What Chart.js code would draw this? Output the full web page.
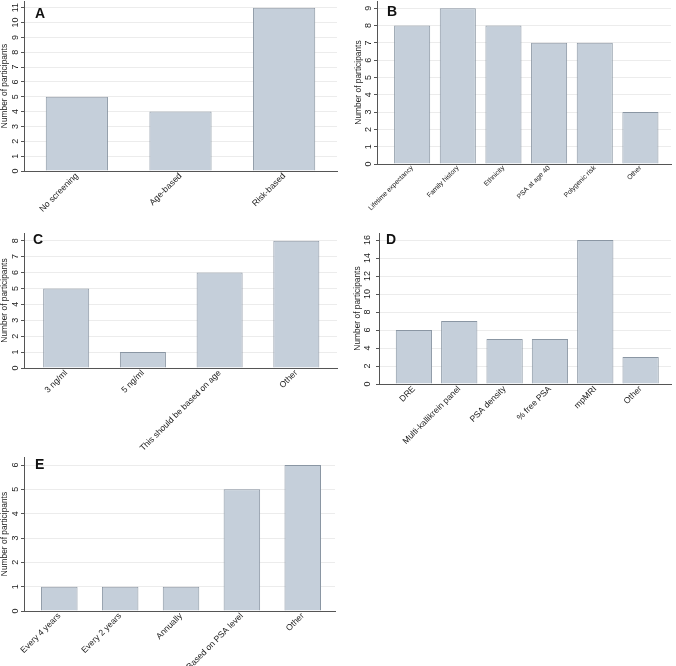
<!DOCTYPE html>
<html>
<head>
<meta charset="utf-8">
<script src="https://cdn.jsdelivr.net/npm/chart.js@4.4.1/dist/chart.umd.min.js"></script>
<style>
  body { margin: 0; background: #fff; }
  #wrap { position: relative; width: 676px; height: 666px; overflow: hidden; }
  .panel { position: absolute; }
</style>
</head>
<body>
<div id="wrap">
  <div class="panel" style="left:0;top:0;width:340px;height:222px"><canvas id="chartA"></canvas></div>
  <div class="panel" style="left:336px;top:0;width:340px;height:222px"><canvas id="chartB"></canvas></div>
  <div class="panel" style="left:0;top:222px;width:340px;height:240px"><canvas id="chartC"></canvas></div>
  <div class="panel" style="left:336px;top:222px;width:340px;height:230px"><canvas id="chartD"></canvas></div>
  <div class="panel" style="left:0;top:446px;width:340px;height:220px"><canvas id="chartE"></canvas></div>
</div>
<script>
// data for each panel
const aLabels = ['No screening', 'Age-based', 'Risk-based'];
const aValues = [5, 4, 11];
const aTicks = [0, 1, 2, 3, 4, 5, 6, 7, 8, 9, 10, 11];

const bLabels = ['Lifetime expectancy', 'Family history', 'Ethnicity', 'PSA at age 40', 'Polygenic risk', 'Other'];
const bValues = [8, 9, 8, 7, 7, 3];
const bTicks = [0, 1, 2, 3, 4, 5, 6, 7, 8, 9];

const cLabels = ['3 ng/ml', '5 ng/ml', 'This should be based on age', 'Other'];
const cValues = [5, 1, 6, 8];
const cTicks = [0, 1, 2, 3, 4, 5, 6, 7, 8];

const dLabels = ['DRE', 'Multi-kallikrein panel', 'PSA density', '% free PSA', 'mpMRI', 'Other'];
const dValues = [6, 7, 5, 5, 16, 3];
const dTicks = [0, 2, 4, 6, 8, 10, 12, 14, 16];

const eLabels = ['Every 4 years', 'Every 2 years', 'Annually', 'Based on PSA level', 'Other'];
const eValues = [1, 1, 1, 5, 6];
const eTicks = [0, 1, 2, 3, 4, 5, 6];

const yTitle = 'Number of participants';

Chart.defaults.font.family = '"Liberation Sans", Arial, sans-serif';
Chart.defaults.color = '#222';

// panel letter drawn in the top-left of the plot area
const letterPlugin = {
  id: 'panelLetter',
  afterDraw(chart, args, opts) {
    const { ctx, chartArea } = chart;
    ctx.save();
    ctx.font = 'bold 14px "Liberation Sans", Arial, sans-serif';
    ctx.fillStyle = '#111';
    ctx.textBaseline = 'alphabetic';
    ctx.fillText(opts.text, chartArea.left + opts.dx, chartArea.top + opts.dy);
    ctx.restore();
  }
};

function makePanel(id, labels, values, yTicks, p) {
  new Chart(document.getElementById(id), {
    type: 'bar',
    data: {
      datasets: [{
        data: values.map((v, i) => ({ x: i, y: v })),
        backgroundColor: '#c5cfda',
        borderColor: '#8a96a3',
        borderWidth: 1,
        barPercentage: p.barPct,
        categoryPercentage: 1
      }]
    },
    plugins: [letterPlugin],
    options: {
      responsive: true,
      maintainAspectRatio: false,
      animation: false,
      layout: { padding: { top: p.padTop, right: p.padRight, left: 0, bottom: 0 } },
      plugins: {
        legend: { display: false },
        tooltip: { enabled: false },
        panelLetter: { text: p.letter, dx: p.letterPos[0], dy: p.letterPos[1] }
      },
      scales: {
        x: {
          type: 'linear',
          offset: false,
          min: p.xMin,
          max: p.xMax,
          afterBuildTicks: s => { s.ticks = labels.map((_, i) => ({ value: i })); },
          afterFit: s => { s.height = p.xHeight; s.paddingLeft = 0; s.paddingRight = 0; },
          grid: { display: false, drawTicks: false, offset: false },
          border: { display: true, color: '#555', width: 1 },
          ticks: {
            autoSkip: false,
            minRotation: 45,
            maxRotation: 45,
            padding: 0,
            font: { size: p.xFont },
            callback: v => labels[v]
          }
        },
        y: {
          min: 0,
          max: p.yMax,
          afterBuildTicks: s => { s.ticks = yTicks.map(v => ({ value: v })); },
          afterFit: s => { s.width = p.yWidth; s.paddingTop = 0; s.paddingBottom = 0; },
          grid: { color: '#ececec', tickColor: '#555', tickLength: 3 },
          border: { display: true, color: '#555', width: 1 },
          ticks: {
            autoSkip: false,
            minRotation: 90,
            maxRotation: 90,
            crossAlign: 'center',
            padding: p.yTickPad,
            font: { size: 9 }
          },
          title: {
            display: true,
            text: yTitle,
            font: { size: 8.4 },
            padding: { top: p.titlePad, bottom: 0 }
          }
        }
      }
    }
  });
}

makePanel('chartA', aLabels, aValues, aTicks, {
  letter: 'A', letterPos: [11, 17], barPct: 0.6, xFont: 8.6,
  xMin: -0.51, xMax: 2.51, yMax: 11.45,
  yWidth: 24, xHeight: 51, padTop: 1, padRight: 3, titlePad: 0, yTickPad: 0
});
makePanel('chartB', bLabels, bValues, bTicks, {
  letter: 'B', letterPos: [10, 15], barPct: 0.79, xFont: 6.8,
  xMin: -0.77, xMax: 5.67, yMax: 9.42,
  yWidth: 41, xHeight: 58, padTop: 1, padRight: 5, titlePad: 18, yTickPad: 2.5
});
makePanel('chartC', cLabels, cValues, cTicks, {
  letter: 'C', letterPos: [9, 11], barPct: 0.6, xFont: 8.6,
  xMin: -0.55, xMax: 3.53, yMax: 8.48,
  yWidth: 24, xHeight: 94, padTop: 11, padRight: 3, titlePad: 0, yTickPad: 2.5
});
makePanel('chartD', dLabels, dValues, dTicks, {
  letter: 'D', letterPos: [7, 11], barPct: 0.8, xFont: 8.6,
  xMin: -0.77, xMax: 5.67, yMax: 16.78,
  yWidth: 43, xHeight: 68, padTop: 11, padRight: 5, titlePad: 17, yTickPad: 3
});
makePanel('chartE', eLabels, eValues, eTicks, {
  letter: 'E', letterPos: [11, 12], barPct: 0.6, xFont: 8.6,
  xMin: -0.58, xMax: 4.53, yMax: 6.33,
  yWidth: 24, xHeight: 55, padTop: 11, padRight: 5, titlePad: 0, yTickPad: 3
});
</script>
</body>
</html>
